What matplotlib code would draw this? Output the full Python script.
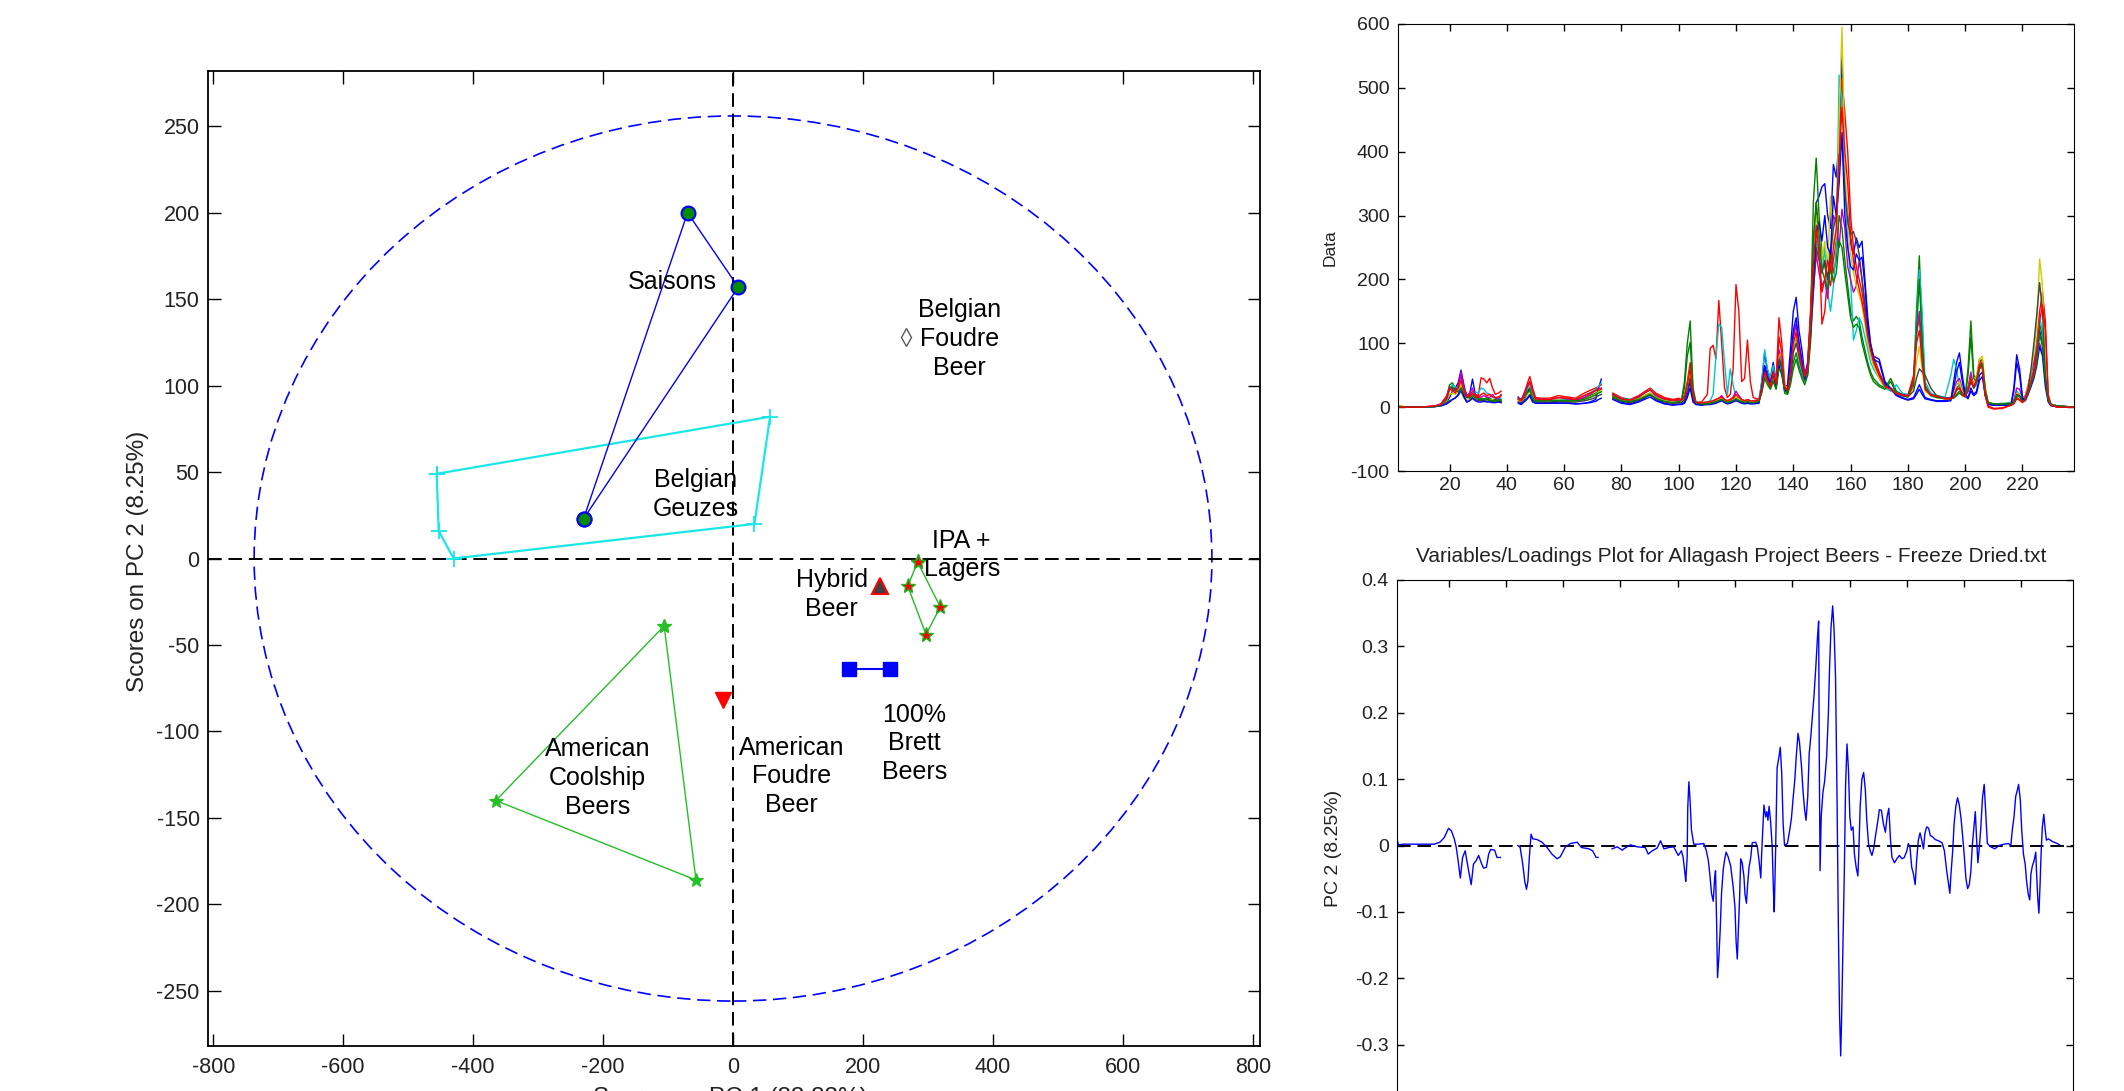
import numpy as np
import matplotlib
matplotlib.use("Agg")
import matplotlib.pyplot as plt
from matplotlib.patches import Ellipse

nan = np.nan
W, H = 2124, 1091
plt.rcParams["axes.unicode_minus"] = False

# ---------------- scores plot (PC1 vs PC2) ----------------
saison_pc1 = [-230, -70, 8]
saison_pc2 = [23, 200, 157]
geuze_pc1 = [-456, -453, -430, 33, 57]
geuze_pc2 = [49, 16, 0, 20, 82]
coolship_pc1 = [-106, -365, -57]
coolship_pc2 = [-39, -140, -186]
ipa_pc1 = [284, 269, 297, 319]
ipa_pc2 = [-2, -16, -44, -28]
brett_pc1 = [179, 242]
brett_pc2 = [-64, -64]
am_foudre_pc1, am_foudre_pc2 = [-15], [-82]
hybrid_pc1, hybrid_pc2 = [226], [-16]
be_foudre_pc1, be_foudre_pc2 = [266], [128]
ellipse_pc1, ellipse_pc2 = 737, 256   # 95% limit half axes

group_labels = ["Saisons", "Belgian\nFoudre\nBeer", "Belgian\nGeuzes", "IPA +\nLagers",
                "Hybrid\nBeer", "100%\nBrett\nBeers", "American\nFoudre\nBeer",
                "American\nCoolship\nBeers"]
label_pc1 = [-94, 348, -57, 352, 152, 279, 90, -209]
label_pc2 = [160, 127, 37, 2, -21, -107, -126, -127]

# ---------------- raw data (variables 2..238) ----------------
spec_x = ([2, 5, 10, 15, 17, 19, 20, 21, 22, 23, 24, 25, 26, 27, 28, 29, 30, 31, 32, 33, 34, 35, 36, 37, 38]
          + [41]
          + [44, 45, 46, 47, 48, 49, 50, 52, 55, 58, 61, 64, 67, 69, 71, 72, 73]
          + [75]
          + [77, 80, 83, 86, 88, 90, 92, 95, 98, 100,
             101, 102, 103, 104, 105, 106, 108, 110,
             111, 112, 113, 114, 115, 116, 117, 118, 119, 120, 121, 122, 123, 124, 125, 126, 128,
             129, 130, 131, 132, 133, 134, 135, 136, 137, 138,
             139, 140, 141, 142, 143, 144, 145, 146, 147, 148,
             149, 150, 151, 152, 153, 154, 155, 156, 157, 158,
             159, 160, 161, 162, 163, 164, 165, 166, 167, 168,
             170, 172, 174, 176, 178, 180, 182,
             183, 184, 185, 186, 188, 190, 193, 195,
             196, 197, 198, 199, 200, 201, 202, 203, 204, 205, 206, 207, 208,
             210, 213, 216,
             217, 218, 219, 220, 221, 222, 223, 224, 225, 226, 227, 228, 229, 230,
             232, 235, 238])

spec_blue = ([0, 0, 0, 1, 3, 8, 15, 25, 30, 38, 58, 35, 15, 20, 44, 20, 12, 12, 10, 12, 10, 10, 9, 10, 8]
             + [nan]
             + [8, 5, 12, 20, 30, 12, 8, 8, 7, 8, 8, 5, 6, 8, 12, 30, 44]
             + [nan]
             + [15, 8, 5, 10, 14, 20, 12, 6, 4, 5,
                5, 8, 20, 40, 10, 5, 4, 5,
                5, 6, 8, 10, 12, 8, 6, 8, 10, 12, 10, 8, 6, 8, 6, 7, 8,
                40, 85, 55, 45, 70, 40, 80, 60, 30, 35,
                90, 150, 172, 120, 90, 50, 70, 140, 240, 320,
                330, 345, 350, 300, 280, 380, 360, 420, 555, 350,
                300, 255, 240, 265, 250, 260, 200, 140, 100, 80,
                75, 40, 30, 20, 15, 12, 15,
                25, 35, 25, 15, 12, 10, 10, 12,
                40, 70, 85, 50, 20, 15, 30, 20, 25, 50, 55, 20, 5,
                3, 3, 4,
                30, 82, 60, 15, 12, 25, 40, 55, 80, 120, 100, 40, 10, 3,
                1, 0, 0])
spec_green = ([2, 0, 0, 1, 4, 15, 35, 38, 30, 28, 35, 25, 18, 16, 20, 18, 15, 14, 13, 15, 13, 12, 12, 13, 12]
              + [nan]
              + [15, 12, 18, 25, 30, 18, 12, 12, 11, 12, 12, 11, 14, 18, 22, 25, 28]
              + [nan]
              + [18, 12, 10, 14, 18, 22, 16, 10, 8, 10,
                 12, 40, 100, 135, 30, 8, 6, 6,
                 7, 8, 10, 12, 14, 10, 8, 10, 12, 15, 12, 10, 8, 10, 8, 8, 10,
                 25, 50, 40, 30, 45, 30, 70, 60, 25, 22,
                 40, 70, 85, 65, 50, 40, 55, 130, 320, 390,
                 300, 240, 220, 200, 250, 210, 230, 300, 280, 230,
                 190, 150, 135, 142, 135, 110, 90, 70, 55, 45,
                 35, 30, 45, 25, 20, 18, 40,
                 150, 237, 120, 35, 20, 16, 14, 14,
                 15, 20, 25, 20, 18, 60, 135, 50, 45, 70, 75, 30, 8,
                 5, 5, 6,
                 8, 20, 18, 10, 12, 25, 40, 55, 80, 130, 110, 50, 12, 4,
                 2, 1, 0])
spec_red = ([0, 0, 0, 2, 5, 18, 32, 30, 25, 35, 48, 30, 20, 18, 25, 20, 18, 46, 44, 38, 45, 30, 20, 22, 25]
            + [nan]
            + [14, 12, 20, 35, 48, 30, 15, 14, 14, 18, 16, 14, 22, 26, 30, 32, 35]
            + [nan]
            + [22, 15, 12, 18, 24, 30, 22, 15, 12, 14,
               12, 18, 40, 70, 20, 8, 8, 20,
               92, 97, 76, 167, 100, 30, 15, 20, 60, 192, 150, 40, 45, 105, 40, 15, 12,
               30, 60, 45, 35, 60, 40, 140, 100, 35, 28,
               60, 110, 130, 90, 70, 50, 65, 150, 250, 320,
               260, 130, 150, 210, 190, 230, 260, 400, 515, 460,
               400, 300, 250, 220, 200, 180, 150, 120, 95, 80,
               55, 35, 30, 22, 20, 18, 50,
               120, 140, 80, 30, 20, 18, 14, 14,
               18, 30, 35, 22, 18, 30, 50, 35, 45, 75, 65, 20, 0,
               -3, -2, 3,
               6, 15, 12, 8, 12, 28, 45, 60, 100, 150, 180, 135, 20, 3,
               0, 0, 0])
spec_cyan = ([0, 0, 0, 1, 4, 14, 28, 35, 32, 30, 40, 28, 16, 15, 22, 24, 22, 30, 28, 22, 20, 16, 14, 15, 14]
             + [nan]
             + [12, 10, 18, 28, 36, 20, 12, 12, 11, 12, 11, 12, 18, 22, 28, 32, 38]
             + [nan]
             + [20, 14, 12, 16, 22, 28, 20, 12, 10, 12,
                12, 16, 35, 60, 15, 8, 7, 8,
                10, 20, 80, 130, 125, 70, 20, 60, 35, 15, 12, 12, 10, 12, 10, 10, 12,
                40, 90, 60, 45, 65, 35, 85, 70, 30, 25,
                45, 90, 110, 75, 55, 40, 60, 115, 190, 260,
                240, 210, 250, 180, 150, 190, 250, 520, 480, 350,
                260, 200, 105, 120, 140, 130, 110, 90, 70, 60,
                45, 30, 25, 35, 22, 20, 40,
                130, 215, 150, 40, 22, 18, 16, 50,
                75, 60, 30, 22, 18, 25, 40, 30, 35, 60, 65, 25, 6,
                5, 6, 7,
                10, 25, 20, 12, 15, 30, 50, 70, 100, 140, 120, 55, 14, 5,
                2, 1, 0])
spec_magenta = ([1, 0, 0, 2, 5, 16, 30, 28, 26, 32, 55, 30, 18, 22, 30, 18, 15, 16, 18, 16, 15, 20, 14, 12, 20]
                + [nan]
                + [16, 10, 22, 32, 40, 25, 14, 12, 12, 15, 13, 11, 15, 20, 26, 30, 28]
                + [nan]
                + [20, 13, 11, 17, 22, 27, 18, 12, 9, 11,
                   11, 15, 30, 50, 15, 7, 6, 7,
                   8, 10, 12, 14, 18, 12, 10, 12, 16, 25, 18, 12, 10, 11, 10, 9, 11,
                   30, 65, 50, 40, 55, 35, 90, 75, 30, 25,
                   50, 110, 130, 100, 75, 50, 55, 110, 180, 240,
                   210, 190, 200, 170, 230, 300, 290, 250, 310, 280,
                   220, 200, 180, 190, 230, 200, 160, 120, 95, 70,
                   50, 35, 30, 22, 20, 18, 40,
                   110, 150, 90, 30, 20, 16, 14, 15,
                   25, 40, 45, 28, 20, 30, 55, 30, 40, 65, 70, 25, 6,
                   5, 5, 6,
                   10, 30, 28, 14, 18, 35, 55, 70, 90, 100, 85, 45, 12, 4,
                   2, 1, 0])
spec_yellow = ([3, 0, 0, 1, 3, 10, 20, 22, 20, 25, 35, 20, 10, 12, 18, 14, 10, 10, 12, 10, 9, 12, 8, 10, 9]
               + [nan]
               + [10, 8, 14, 20, 25, 14, 10, 10, 10, 11, 10, 9, 12, 16, 20, 24, 26]
               + [nan]
               + [16, 10, 9, 13, 18, 22, 15, 10, 8, 9,
                  9, 14, 30, 55, 14, 6, 5, 6,
                  7, 8, 10, 12, 15, 10, 8, 10, 12, 16, 12, 10, 8, 10, 8, 8, 10,
                  25, 55, 45, 35, 50, 30, 80, 85, 35, 28,
                  45, 95, 115, 85, 65, 45, 55, 120, 230, 300,
                  270, 230, 260, 220, 330, 250, 270, 450, 595, 380,
                  290, 240, 210, 190, 175, 160, 130, 100, 80, 65,
                  45, 32, 28, 22, 18, 16, 30,
                  70, 95, 60, 25, 18, 15, 13, 13,
                  20, 35, 40, 25, 18, 25, 45, 35, 50, 75, 80, 30, 7,
                  5, 5, 6,
                  9, 22, 20, 12, 16, 35, 55, 85, 130, 232, 190, 60, 14, 4,
                  2, 1, 0])
spec_gray = ([0, 0, 0, 1, 2, 6, 10, 12, 15, 18, 25, 15, 8, 10, 15, 12, 10, 10, 11, 9, 10, 8, 10, 9, 9]
             + [nan]
             + [8, 7, 10, 14, 20, 10, 8, 8, 8, 9, 8, 8, 10, 12, 15, 18, 20]
             + [nan]
             + [14, 9, 7, 11, 15, 19, 13, 8, 6, 7,
                7, 12, 25, 45, 12, 5, 4, 5,
                6, 7, 8, 10, 12, 8, 7, 8, 10, 13, 10, 8, 7, 8, 7, 7, 8,
                28, 60, 48, 38, 52, 32, 75, 65, 28, 24,
                42, 85, 100, 80, 60, 42, 50, 100, 180, 250,
                230, 210, 230, 200, 240, 280, 300, 395, 420, 340,
                290, 270, 275, 260, 240, 200, 160, 125, 95, 75,
                50, 35, 28, 22, 18, 16, 25,
                45, 60, 55, 50, 30, 18, 14, 14,
                18, 28, 30, 22, 18, 25, 40, 30, 40, 60, 65, 25, 6,
                5, 5, 6,
                9, 20, 18, 12, 15, 30, 60, 100, 145, 195, 150, 50, 12, 4,
                2, 1, 0])
spec_blue2 = ([0, 0, 0, 1, 2, 5, 8, 12, 14, 20, 30, 18, 8, 10, 14, 10, 8, 8, 9, 8, 8, 7, 7, 8, 7]
              + [nan]
              + [6, 4, 8, 12, 18, 8, 6, 6, 6, 6, 6, 5, 6, 7, 9, 12, 14]
              + [nan]
              + [12, 6, 4, 8, 12, 16, 10, 5, 3, 4,
                 4, 6, 15, 30, 8, 4, 3, 4,
                 4, 5, 6, 8, 10, 7, 5, 6, 8, 10, 8, 6, 5, 6, 5, 5, 6,
                 30, 65, 45, 38, 55, 30, 65, 50, 25, 30,
                 70, 120, 140, 100, 70, 45, 60, 120, 200, 270,
                 290, 260, 300, 250, 240, 330, 300, 350, 430, 300,
                 250, 220, 215, 240, 230, 235, 190, 130, 95, 75,
                 70, 38, 28, 18, 14, 11, 13,
                 20, 28, 20, 13, 11, 9, 9, 10,
                 30, 55, 70, 40, 18, 13, 25, 18, 22, 42, 48, 18, 4,
                 3, 3, 3,
                 25, 70, 50, 13, 10, 20, 32, 45, 65, 95, 80, 32, 8, 2,
                 1, 0, 0])
spec_green2 = ([1, 0, 0, 1, 3, 12, 28, 32, 26, 24, 30, 22, 15, 14, 18, 15, 13, 12, 12, 13, 11, 10, 10, 11, 10]
               + [nan]
               + [13, 10, 15, 22, 26, 15, 10, 10, 10, 10, 10, 10, 12, 15, 19, 22, 24]
               + [nan]
               + [16, 10, 9, 12, 16, 20, 14, 9, 7, 9,
                  10, 30, 80, 102, 25, 7, 5, 5,
                  6, 7, 9, 10, 12, 9, 7, 9, 10, 13, 10, 9, 7, 9, 7, 7, 9,
                  22, 45, 35, 28, 40, 28, 60, 55, 22, 20,
                  35, 60, 75, 58, 45, 35, 50, 110, 260, 320,
                  270, 215, 200, 185, 220, 195, 210, 260, 250, 210,
                  175, 140, 125, 130, 125, 100, 82, 65, 50, 40,
                  32, 28, 40, 22, 18, 16, 35,
                  120, 200, 100, 30, 18, 15, 13, 13,
                  14, 18, 22, 18, 16, 50, 110, 45, 40, 62, 68, 26, 7,
                  5, 5, 5,
                  7, 18, 16, 9, 11, 22, 35, 50, 70, 115, 95, 45, 10, 3,
                  2, 1, 0])
spec_red2 = ([0, 0, 0, 2, 4, 15, 28, 26, 22, 30, 42, 26, 17, 16, 22, 17, 15, 20, 22, 18, 20, 16, 15, 16, 18]
             + [nan]
             + [12, 10, 17, 30, 40, 25, 13, 12, 12, 15, 14, 12, 18, 22, 26, 28, 30]
             + [nan]
             + [20, 13, 11, 16, 22, 27, 20, 13, 11, 12,
                11, 16, 35, 60, 18, 7, 7, 8,
                9, 10, 12, 14, 16, 12, 10, 12, 14, 20, 15, 12, 10, 12, 10, 10, 11,
                28, 55, 42, 32, 55, 36, 110, 85, 32, 26,
                55, 100, 118, 85, 65, 48, 60, 135, 220, 285,
                240, 180, 200, 230, 210, 250, 280, 380, 470, 400,
                350, 270, 230, 205, 185, 165, 140, 110, 88, 72,
                50, 32, 28, 21, 19, 17, 45,
                100, 120, 70, 28, 19, 17, 13, 13,
                16, 26, 30, 20, 16, 26, 45, 32, 42, 68, 60, 18, 2,
                -2, -1, 3,
                5, 13, 11, 7, 11, 25, 40, 55, 90, 135, 160, 120, 18, 3,
                0, 0, 0])

spectra = [spec_blue, spec_green, spec_red, spec_cyan, spec_magenta, spec_yellow, spec_gray,
           spec_blue2, spec_green2, spec_red2]
spec_colors = [(0, 0, 1), (0, 0.5, 0), (1, 0, 0), (0, 0.78, 0.78),
               (0.75, 0, 0.75), (0.8, 0.8, 0), (0.25, 0.25, 0.25),
               (0, 0, 1), (0, 0.5, 0), (1, 0, 0)]

# ---------------- PC2 loadings ----------------
load_var = [2, 2.5, 4, 8, 12, 15, 17, 18.5, 20, 21, 22, 22.7, 23.5, 24.1, 24.9, 25.8, 27, 27.9,
            28.7, 29.6, 30.5, 31.4, 32.2, 33.2, 34, 34.7, 36.1, 36.9, 38.1,
            41,
            44.2, 45, 45.9, 46.6, 47.2, 47.7, 48.2, 48.8, 49.4, 50.9, 52.6, 54.4, 56.1, 57.9, 59,
            60.8, 62.6, 64.9, 66.4, 69, 70.3, 71.5, 72.2,
            75,
            77.1, 78.9, 80.6, 81.2, 83.5, 85.8, 88.7, 89.7, 91.1, 92.8, 94, 95.2, 96.9, 98.6,
            100.2, 101.3, 101.9, 102.5, 102.8, 103.3, 103.5, 103.9, 104.3, 104.8, 105.6, 107.4,
            109.1, 110, 110.7, 111.2, 111.8, 112.4, 112.9, 113.2, 113.6, 113.9, 114.4, 114.8,
            115.3, 115.9, 116.5, 116.9, 117.6, 118.5, 119.4, 120, 120.4, 120.8, 121.1, 121.6,
            122, 122.5, 123.1, 123.5, 124, 124.4, 124.9, 125.5, 126, 127.2, 127.8, 128.4, 129,
            129.3, 129.8, 130.1, 130.7, 131.1, 131.5, 131.9, 132.4, 133, 133.4, 133.7, 134.2,
            134.7, 135.4, 135.8, 136.3, 136.8, 137.3, 138.3, 139.1, 139.7, 140.3, 140.9, 141.4,
            142, 142.5, 143.2, 143.8, 144.3, 144.8, 145.4, 145.9, 146.5, 147, 147.6, 148.2,
            148.8, 149.2, 149.4, 149.7, 150.1, 150.7, 151.3, 152, 152.6, 153, 153.5, 154.1,
            154.6, 155.1, 155.6, 156.1, 156.5, 156.9, 157.2, 157.7, 158.2, 158.6, 159.1, 159.6,
            160.1, 160.6, 161.2, 161.7, 162.3, 162.9, 163.2, 163.7, 164.3, 164.9, 165.5, 166,
            166.6, 167.2, 167.8, 168.4, 169, 169.9, 170.4, 171.1, 171.8, 172.5, 173.1, 173.7,
            174.3, 174.8, 175.7, 176.5, 177.4, 178.3, 179.1, 180, 180.5, 181.1, 181.7, 182.3,
            182.9, 183.4, 184, 184.6, 185.2, 185.8, 186.3, 186.9, 187.6, 188.2, 189, 189.9,
            191.1, 192.3, 193.1, 193.9, 194.6, 195, 195.4, 196, 196.5, 197.1, 197.7, 198.3,
            198.9, 199.4, 200, 200.6, 201.2, 201.8, 202.3, 202.9, 203.5, 203.9, 204.3, 204.8,
            205.2, 205.8, 206.4, 207, 207.6, 208.1, 209.3, 210.7, 212.2, 213.9, 215.5, 216.3,
            216.8, 217.4, 218, 218.6, 219, 219.6, 220.1, 220.7, 221.3, 221.8, 222.4, 222.9,
            223.3, 223.8, 224.4, 225, 225.3, 225.7, 226.1, 226.5, 226.9, 227.3, 227.8, 228.2,
            228.7, 229.4, 230.8, 232.5, 233.3]
load_pc2 = [0.010, 0.001, 0.002, 0.002, 0.002, 0.002, 0.005, 0.012, 0.026, 0.022, 0.010, -0.003,
            -0.028, -0.049, -0.018, -0.008, -0.038, -0.059, -0.028, -0.023, -0.015, -0.026,
            -0.034, -0.033, -0.013, -0.006, -0.007, -0.018, -0.018,
            nan,
            0.000, -0.003, -0.028, -0.054, -0.066, -0.054, -0.018, 0.017, 0.010, 0.009, 0.005,
            -0.003, -0.013, -0.020, -0.017, -0.002, 0.003, 0.005, -0.003, -0.005, -0.008,
            -0.018, -0.018,
            nan,
            -0.005, -0.002, -0.007, -0.005, 0.001, -0.002, -0.003, -0.013, -0.008, -0.004,
            0.007, -0.005, -0.003, -0.002,
            -0.015, -0.008, -0.018, -0.041, -0.054, -0.018, 0.056, 0.096, 0.069, 0.023, 0.002,
            0.002,
            0.003, -0.008, -0.023, -0.043, -0.072, -0.084, -0.049, -0.038, -0.120, -0.199,
            -0.166, -0.130,
            -0.072, -0.036, -0.018, -0.010, -0.017, -0.031, -0.064, -0.094, -0.146, -0.171,
            -0.135, -0.079,
            -0.020, -0.026, -0.046, -0.074, -0.087, -0.059, -0.033, -0.018, 0.004, 0.005,
            -0.002, -0.023, -0.049,
            -0.013, 0.033, 0.061, 0.043, 0.051, 0.038, 0.059, 0.038, -0.003, -0.066, -0.100,
            -0.003,
            0.117, 0.135, 0.148, 0.110, 0.033, 0.000, 0.003, 0.023, 0.041, 0.072, 0.100, 0.135,
            0.169, 0.156, 0.120, 0.079, 0.054, 0.038, 0.074, 0.138, 0.166, 0.194, 0.227, 0.268,
            0.314, 0.338, 0.151, -0.038, 0.044, 0.080, 0.097, 0.135, 0.199, 0.266, 0.327, 0.361,
            0.324, 0.253, 0.080, -0.128, -0.255, -0.317, -0.263, -0.148, -0.031, 0.090, 0.153,
            0.115,
            0.043, 0.023, 0.028, -0.013, -0.033, -0.046, -0.013, 0.059, 0.100, 0.110, 0.084,
            0.038,
            0.003, -0.008, -0.015, -0.005, 0.013, 0.038, 0.054, 0.053, 0.033, 0.020, 0.043,
            0.056,
            0.008, -0.018, -0.026, -0.020, -0.015, -0.020, -0.018, -0.008, 0.003, -0.003,
            -0.033, -0.043,
            -0.059, -0.023, 0.008, 0.019, 0.008, -0.005, 0.018, 0.028, 0.026, 0.015, 0.013,
            0.009,
            0.007, 0.004, -0.008, -0.038, -0.059, -0.072, -0.043, -0.008, 0.033, 0.059, 0.072,
            0.061,
            0.041, 0.018, -0.013, -0.049, -0.065, -0.059, -0.041, 0.003, 0.031, 0.051, 0.013,
            -0.026,
            -0.008, 0.026, 0.072, 0.092, 0.043, 0.003, -0.002, -0.005, 0.000, 0.002, 0.003,
            0.000,
            0.023, 0.043, 0.074, 0.084, 0.092, 0.069, 0.023, -0.013, -0.028, -0.054, -0.074,
            -0.082,
            -0.043, -0.031, -0.023, -0.010, -0.043, -0.079, -0.102, -0.059, -0.008, 0.028,
            0.047, 0.028,
            0.008, 0.010, 0.006, 0.003, 0.001]

for s in spectra:
    assert len(s) == len(spec_x), len(s)
assert len(load_var) == len(load_pc2), (len(load_var), len(load_pc2))

narrow = ["Liberation Sans Narrow", "Liberation Sans", "DejaVu Sans"]
plain = ["Liberation Sans", "DejaVu Sans"]


def box(left, top, right, bottom):
    # pixel box of the reference -> figure fraction
    return [left / W, 1 - bottom / H, (right - left) / W, (bottom - top) / H]


def closed(v):
    return list(v) + [v[0]]


fig = plt.figure(figsize=(W / 100, H / 100), dpi=100)

# ---------------- left: scores ----------------
ax = fig.add_axes(box(208, 71, 1260, 1046))
ax.add_patch(Ellipse((0, 0), 2 * ellipse_pc1, 2 * ellipse_pc2, fill=False,
                     edgecolor="blue", lw=1.2, ls=(0, (8, 4))))
ax.axhline(0, color="k", lw=1.4, ls=(0, (7, 3.5)), zorder=1)
ax.axvline(0, color="k", lw=1.4, ls=(0, (7, 3.5)), zorder=1)

ax.plot(closed(geuze_pc1), closed(geuze_pc2), color=(0.1, 0.9, 0.9), lw=1.6,
        marker="+", ms=12, mew=1.3)
ax.plot(closed(saison_pc1), closed(saison_pc2), color="blue", lw=1.0,
        marker="o", ms=10, mfc=(0, 0.55, 0), mec="blue", mew=1.5)
ax.plot(closed(coolship_pc1), closed(coolship_pc2), color=(0.15, 0.75, 0.15), lw=1.0,
        marker="*", ms=10, mew=0.8)
ax.plot(closed(ipa_pc1), closed(ipa_pc2), color=(0.15, 0.72, 0.15), lw=1.0,
        marker="*", ms=11, mfc="red", mec=(0.1, 0.7, 0.1), mew=1.0)
ax.plot(brett_pc1, brett_pc2, color="blue", lw=1.5, marker="s", ms=10, mfc="blue", mec="blue")
ax.plot(am_foudre_pc1, am_foudre_pc2, ls="none", marker="v", ms=11, mfc="red", mec="red")
ax.plot(hybrid_pc1, hybrid_pc2, ls="none", marker="^", ms=11, mfc=(0.25, 0.25, 0.25),
        mec="red", mew=1.5)
ax.plot(be_foudre_pc1, be_foudre_pc2, ls="none", marker="d", ms=9, mfc="none",
        mec=(0.35, 0.35, 0.35), mew=1.0)

for s, x, y in zip(group_labels, label_pc1, label_pc2):
    ax.text(x, y, s, ha="center", va="center", fontsize=18, family=plain, linespacing=1.25)

ax.set_xlim(-808, 811)
ax.set_ylim(-282, 282)
ax.set_xticks(np.arange(-800, 801, 200))
ax.set_yticks(np.arange(-250, 251, 50))
ax.tick_params(direction="in", top=True, right=True, length=9, width=1.0,
               labelsize=15.5, labelfontfamily=narrow, labelcolor="#222222")
ax.tick_params(axis="x", pad=8)
ax.tick_params(axis="y", pad=6)
for sp in ax.spines.values():
    sp.set_linewidth(1.3)

fig.text(138 / W, 1 - 561 / H, "Scores on PC 2 (8.25%)", rotation=90, ha="center",
         va="center", fontsize=17.5, family=plain, color="#222222")
# the reference is cropped through this label, only its top edge shows
fig.text(730 / W, 1 - 1087 / H, "Scores on PC 1 (83.83%)", ha="center", va="top",
         fontsize=17.5, family=plain, color="#222222")

# ---------------- top right: data ----------------
ax2 = fig.add_axes(box(1398, 24, 2074, 471))
for s, c in zip(spectra, spec_colors):
    ax2.plot(spec_x, s, color=c, lw=1.0)
ax2.set_xlim(2, 238)
ax2.set_ylim(-100, 600)
ax2.set_xticks(np.arange(20, 221, 20))
ax2.set_yticks(np.arange(-100, 601, 100))
ax2.tick_params(direction="in", top=True, right=True, length=5, width=1.0,
                labelsize=14, labelfontfamily=narrow, labelcolor="#222222")
ax2.tick_params(axis="x", pad=4)
ax2.tick_params(axis="y", pad=6)
fig.text(1330 / W, 1 - 248 / H, "Data", rotation=90, ha="center", va="center",
         fontsize=12.5, family=plain, color="#222222")

# ---------------- bottom right: loadings ----------------
ax3 = fig.add_axes(box(1397, 580, 2073, 1111))
ax3.axhline(0, color="k", lw=1.4, ls=(0, (7, 3.5)), zorder=1)
ax3.plot(load_var, load_pc2, color="blue", lw=1.0)
ax3.set_xlim(2, 238)
ax3.set_ylim(-0.4, 0.4)
ax3.set_xticks(np.arange(20, 221, 20))
ax3.set_yticks(np.arange(-0.3, 0.41, 0.1))
ax3.set_yticklabels(["-0.3", "-0.2", "-0.1", "0", "0.1", "0.2", "0.3", "0.4"])
ax3.tick_params(direction="in", top=True, right=True, length=5, width=1.0,
                labelsize=14, labelfontfamily=narrow, labelcolor="#222222", pad=6)
# x tick labels of this panel fall below the cropped bottom edge
ax3.tick_params(axis="x", labelbottom=False)
fig.text(1334 / W, 1 - 848 / H, "PC 2 (8.25%)", rotation=90, ha="center", va="center",
         fontsize=14, family=plain, color="#222222")
fig.text(1731 / W, 1 - 557 / H,
         "Variables/Loadings Plot for Allagash Project Beers - Freeze Dried.txt",
         ha="center", va="center", fontsize=15, family=narrow, color="#222222")

fig.savefig("out.png", dpi=100)
